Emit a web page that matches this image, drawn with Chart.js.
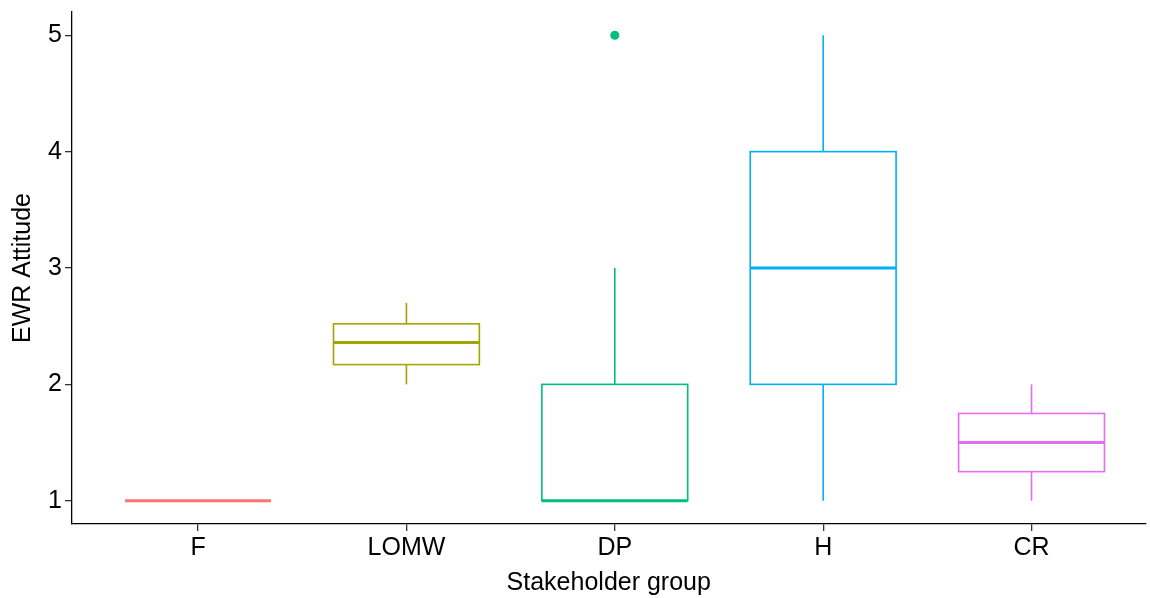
<!DOCTYPE html>
<html>
<head>
<meta charset="utf-8">
<script src="https://cdn.jsdelivr.net/npm/chart.js@4.4.1/dist/chart.umd.min.js"></script>
<style>
  html, body { margin: 0; padding: 0; background: #ffffff; }
  #wrap { width: 1150px; height: 598px; position: relative; }
</style>
</head>
<body>
<div id="wrap"><canvas id="c"></canvas></div>
<script>
// Five-number summaries of EWR attitude per stakeholder group
const groups      = ['F', 'LOMW', 'DP', 'H', 'CR'];
const whiskerLow  = [1, 2.00, 1, 1, 1.00];
const q1          = [1, 2.17, 1, 2, 1.25];
const median      = [1, 2.36, 1, 3, 1.50];
const q3          = [1, 2.52, 2, 4, 1.75];
const whiskerHigh = [1, 2.70, 3, 5, 2.00];
// Points beyond the whiskers
const outlierGroup = ['DP'];
const outlierValue = [5];
const groupColors = ['#F8766D', '#A3A500', '#00BF7D', '#00B0F6', '#E76BF3'];
const yTicks = [1, 2, 3, 4, 5];

const FONT = "'Liberation Sans', Arial, sans-serif";
const BOX_WIDTH = 0.7; // in category units

// Draws boxes, medians and whiskers through the chart's scales
const boxPlugin = {
  id: 'boxes',
  beforeDatasetsDraw(chart) {
    const xs = chart.scales.x, ys = chart.scales.y, ctx = chart.ctx;
    const py = v => ys.getPixelForValue(v);
    const seg = (x1, y1, x2, y2) => { ctx.beginPath(); ctx.moveTo(x1, y1); ctx.lineTo(x2, y2); ctx.stroke(); };
    groups.forEach((g, i) => {
      const cx = xs.getPixelForValue(i + 1);
      const left = xs.getPixelForValue(i + 1 - BOX_WIDTH / 2);
      const right = xs.getPixelForValue(i + 1 + BOX_WIDTH / 2);
      ctx.save();
      ctx.strokeStyle = groupColors[i];
      ctx.lineCap = 'butt';
      ctx.lineWidth = 1.6;
      if (whiskerHigh[i] > q3[i]) seg(cx, py(whiskerHigh[i]), cx, py(q3[i]));
      if (whiskerLow[i] < q1[i]) seg(cx, py(q1[i]), cx, py(whiskerLow[i]));
      ctx.strokeRect(left, py(q3[i]), right - left, py(q1[i]) - py(q3[i]));
      ctx.lineWidth = 3;
      seg(left, py(median[i]), right, py(median[i]));
      ctx.restore();
    });
  }
};

const outlierPoints = outlierGroup.map((g, k) => ({ x: groups.indexOf(g) + 1, y: outlierValue[k] }));
const outlierColors = outlierGroup.map(g => groupColors[groups.indexOf(g)]);

new Chart(document.getElementById('c'), {
  type: 'scatter',
  data: {
    datasets: [{
      data: outlierPoints,
      backgroundColor: outlierColors,
      borderWidth: 0,
      pointRadius: 4.5,
      pointHoverRadius: 4.5
    }]
  },
  plugins: [boxPlugin],
  options: {
    responsive: true,
    maintainAspectRatio: false,
    animation: false,
    layout: { padding: { top: 12, right: 0, left: 0, bottom: 0 } },
    plugins: { legend: { display: false }, tooltip: { enabled: false } },
    scales: {
      x: {
        type: 'linear',
        min: 0.395,
        max: 5.547,
        afterBuildTicks: s => { s.ticks = groups.map((g, i) => ({ value: i + 1 })); },
        afterFit: s => { s.height = 74; s.paddingLeft = 0; s.paddingRight = 0; },
        border: { display: true, color: '#000000', width: 1.3 },
        grid: { drawOnChartArea: false, drawTicks: true, tickLength: 7, color: '#333333', lineWidth: 1.3 },
        ticks: {
          callback: v => groups[v - 1],
          color: '#000000',
          font: { family: FONT, size: 25 },
          padding: 2,
          maxRotation: 0
        },
        title: {
          display: true,
          text: 'Stakeholder group',
          color: '#000000',
          font: { family: FONT, size: 25 },
          padding: { top: 0, bottom: 0 }
        }
      },
      y: {
        type: 'linear',
        min: 0.8,
        max: 5.2,
        afterBuildTicks: s => { s.ticks = yTicks.map(v => ({ value: v })); },
        afterFit: s => { s.width = 72; s.paddingTop = 0; s.paddingBottom = 0; },
        border: { display: true, color: '#000000', width: 1.3 },
        grid: { drawOnChartArea: false, drawTicks: true, tickLength: 7, color: '#333333', lineWidth: 1.3 },
        ticks: {
          color: '#000000',
          font: { family: FONT, size: 25 },
          padding: 3
        },
        title: {
          display: true,
          text: 'EWR Attitude',
          color: '#000000',
          font: { family: FONT, size: 25 },
          padding: { top: 8, bottom: 0 }
        }
      }
    }
  }
});
</script>
</body>
</html>
